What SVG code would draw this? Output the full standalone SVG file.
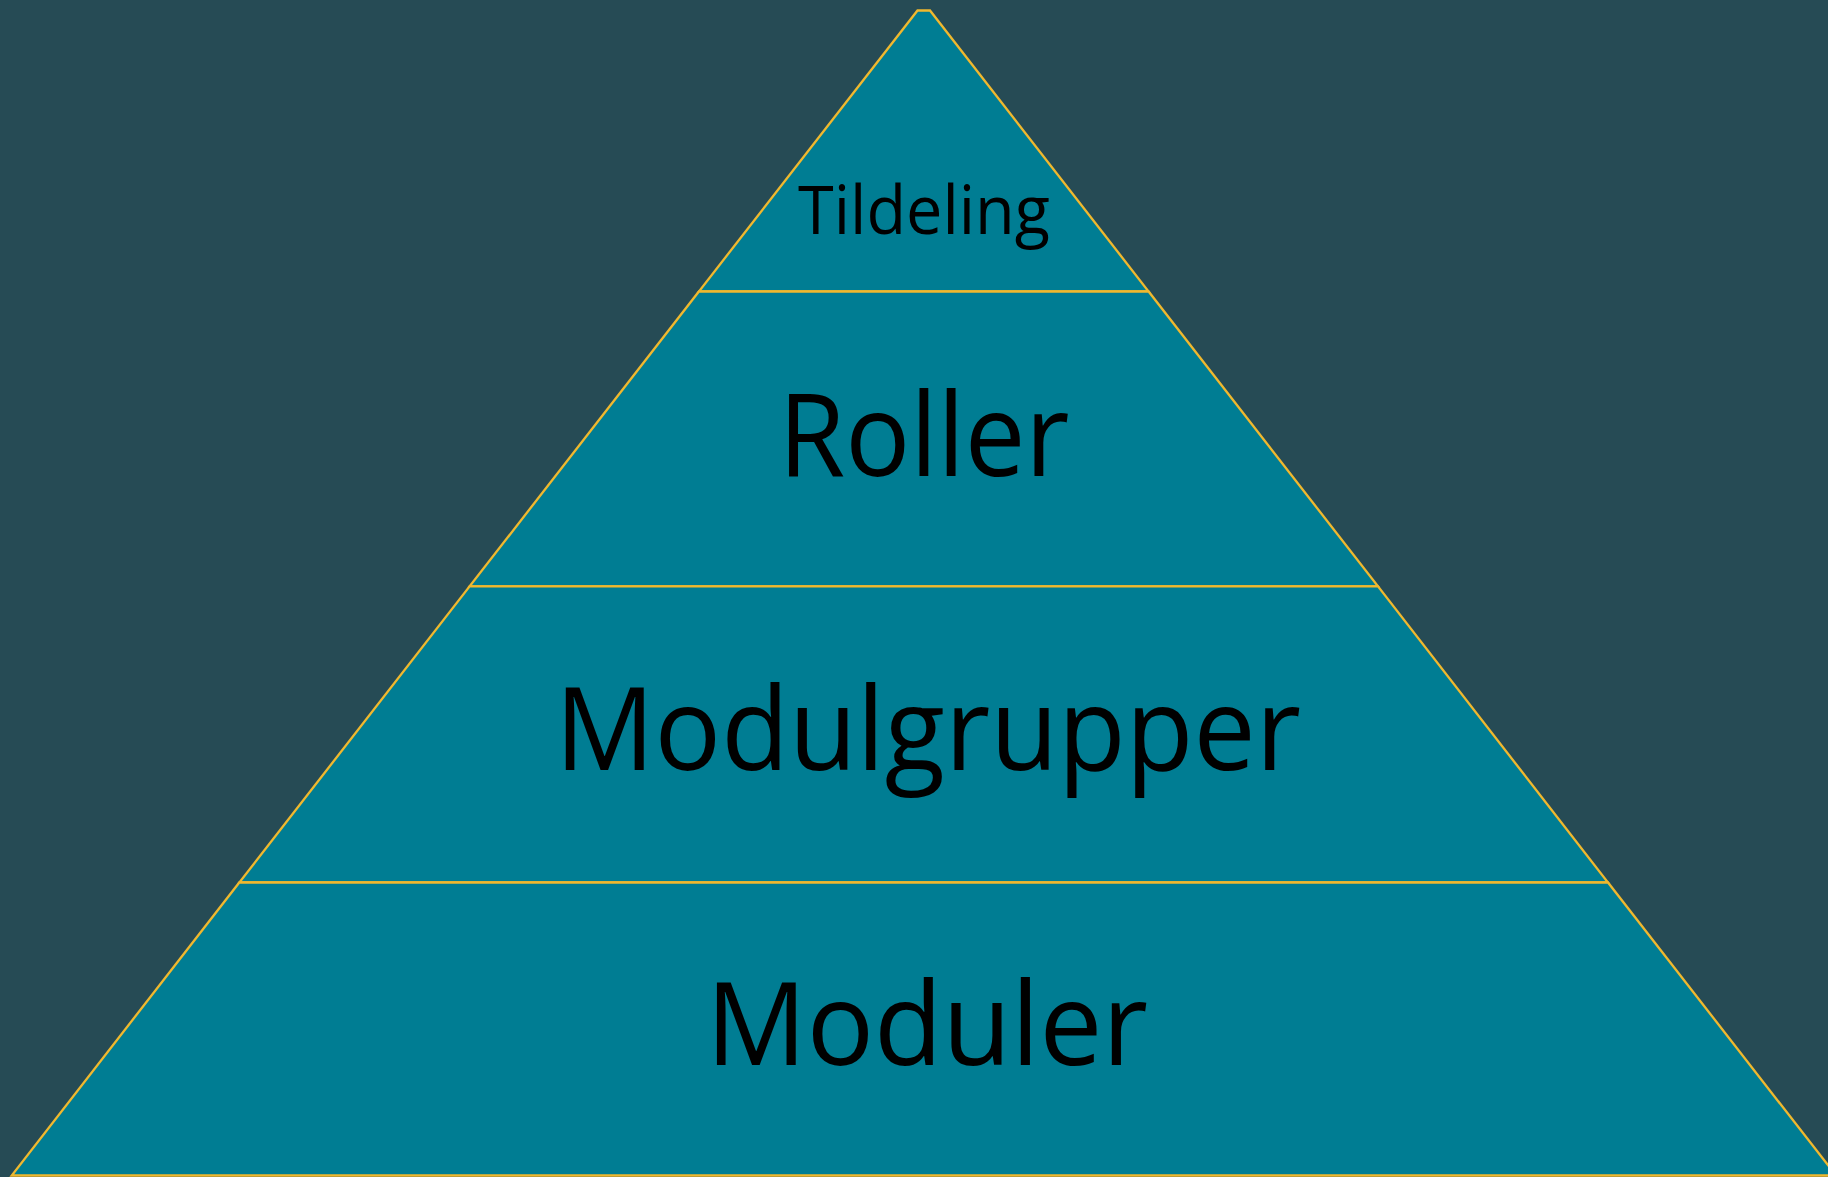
<svg xmlns="http://www.w3.org/2000/svg" width="1828" height="1177" viewBox="0 0 1828 1177">
<style>
.layer{fill:#007D93;stroke:#F0B82E;stroke-width:2.3;stroke-linejoin:miter}
.lbl{font-family:"Open Sans","Noto Sans","Liberation Sans",sans-serif;fill:#000;text-anchor:middle;font-weight:500}
</style>
<rect x="0" y="0" width="1828" height="1177" fill="#264B55"/>
<g id="layer-tildeling">
<polygon class="layer" points="917.5,10.5 930,10.5 1148.6,291.5 698.9,291.5"/>
<text class="lbl" x="924" y="233.5" font-size="67" textLength="252" lengthAdjust="spacingAndGlyphs">Tildeling</text>
</g>
<g id="layer-roller">
<polygon class="layer" points="698.9,291.5 1148.6,291.5 1378,586.4 469.6,586.4"/>
<text class="lbl" x="924" y="476" font-size="116" textLength="291" lengthAdjust="spacingAndGlyphs">Roller</text>
</g>
<g id="layer-modulgrupper">
<polygon class="layer" points="469.6,586.4 1378,586.4 1608,882.5 239.3,882.5"/>
<text class="lbl" x="928" y="770" font-size="116" textLength="746" lengthAdjust="spacingAndGlyphs">Modulgrupper</text>
</g>
<g id="layer-moduler">
<polygon class="layer" points="239.3,882.5 1608,882.5 1836,1175.5 11.7,1175.5"/>
<text class="lbl" x="927" y="1065" font-size="116" textLength="442" lengthAdjust="spacingAndGlyphs">Moduler</text>
</g>
<g id="connectors"></g>
</svg>
